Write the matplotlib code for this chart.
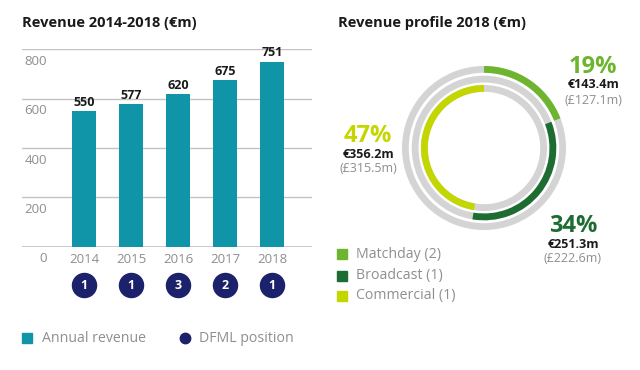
import matplotlib
matplotlib.use("Agg")
import matplotlib.pyplot as plt
import numpy as np
from matplotlib.patches import Rectangle
from matplotlib.lines import Line2D
from matplotlib.transforms import ScaledTranslation

plt.rcParams['font.family'] = ['Open Sans', 'DejaVu Sans']

# data
years = ['2014', '2015', '2016', '2017', '2018']
revenue = [550, 577, 620, 675, 751]
dfml_pos = [1, 1, 3, 2, 1]
yticks = [0, 200, 400, 600, 800]

streams = ['Matchday (2)', 'Broadcast (1)', 'Commercial (1)']
eur = [143.4, 251.3, 356.2]
gbp = [127.1, 222.6, 315.5]
pct = [19, 34, 47]

TEAL = '#0f95a7'
NAVY = '#1b216b'
GREENS = ['#6db52e', '#1d6c32', '#c4d600']
RING = '#d4d4d4'
GRID = '#c2c2c2'
TXT = '#8e8e8e'

W, H = 640, 370
fig = plt.figure(figsize=(6.4, 3.7), dpi=100)


def fx(px):
    return px / W


def fy(py):
    return 1 - py / H


# ---- left: bar chart
ax = fig.add_axes([fx(22), fy(247), fx(312) - fx(22), fy(49) - fy(247)])
x = np.arange(len(years))
bars = ax.bar(x, revenue, width=0.51, color=TEAL, zorder=2)
ax.bar_label(bars, labels=[str(v) for v in revenue], padding=1.5,
             fontsize=9, fontweight='bold', color='#1a1a1a')
ax.set_xlim(-1.32, 4.85)
ax.set_ylim(-2, 802)
ax.set_yticks(yticks)
ax.set_yticklabels([str(t) for t in yticks])
ax.set_xticks(x)
ax.set_xticklabels(years)
ax.tick_params(axis='both', length=0, labelsize=9.5, labelcolor=TXT)
ax.tick_params(axis='y', pad=-18)
ax.tick_params(axis='x', pad=4)
for lab in ax.get_yticklabels():
    lab.set_transform(lab.get_transform() + ScaledTranslation(0, -0.105, fig.dpi_scale_trans))
ax.yaxis.grid(True, color=GRID, lw=1)
ax.axhline(0, color=GRID, lw=1.2, zorder=1)
ax.set_axisbelow(True)
for s in ax.spines.values():
    s.set_visible(False)

# DFML position badges under the years
badge_y = [-0.192] * len(years)
ax.scatter(x, badge_y, s=300, color=NAVY, transform=ax.get_xaxis_transform(),
           clip_on=False, zorder=3)
for xi, by, p in zip(x, badge_y, dfml_pos):
    ax.text(xi, by, str(p), transform=ax.get_xaxis_transform(), ha='center',
            va='center', color='white', fontsize=9, fontweight='bold', zorder=4)

fig.text(fx(22), fy(23), 'Revenue 2014-2018 (€m)', fontsize=10.5,
         fontweight='bold', color='#1a1a1a', va='center')

# left legend
fig.add_artist(Rectangle((fx(22), fy(343)), fx(10), 10 / H, color=TEAL,
                         transform=fig.transFigure))
fig.text(fx(42), fy(338), 'Annual revenue', fontsize=10.2, color=TXT, va='center')
fig.add_artist(Line2D([fx(185)], [fy(338)], marker='o', markersize=7.5,
                      color=NAVY, linestyle='none', transform=fig.transFigure))
fig.text(fx(199), fy(338), 'DFML position', fontsize=10.2, color=TXT, va='center')

# ---- right: revenue profile rings
ax2 = fig.add_axes([fx(384), fy(248), fx(200), 200 / H])
total = sum(eur)
cum = np.concatenate([[0], np.cumsum(eur)]) / total
radii = [1.0, 72.3 / 82, 63 / 82]
width = 6.8 / 82
for i, r in enumerate(radii):
    ax2.pie([1], radius=r, colors=[RING], startangle=90,
            wedgeprops=dict(width=width, linewidth=0))
    parts = [cum[i], cum[i + 1] - cum[i], max(0.0, 1 - cum[i + 1])]
    ax2.pie(parts, radius=r, colors=['none', GREENS[i], 'none'], startangle=90,
            counterclock=False, normalize=False,
            wedgeprops=dict(width=width, linewidth=0))
lim = 100 / 82
ax2.set_xlim(-lim, lim)
ax2.set_ylim(-lim, lim)
ax2.set_aspect('equal')
ax2.axis('off')

fig.text(fx(338), fy(23), 'Revenue profile 2018 (€m)', fontsize=10.5,
         fontweight='bold', color='#1a1a1a', va='center')

label_pos = [(593, 67), (573, 226), (368, 136)]
for (lx, ly), p, e, g, c in zip(label_pos, pct, eur, gbp, GREENS):
    fig.text(fx(lx), fy(ly), f'{p}%', fontsize=17, fontweight='bold', color=c,
             ha='center', va='center')
    fig.text(fx(lx), fy(ly + 18), f'€{e:.1f}m', fontsize=9, fontweight='bold',
             color='#1a1a1a', ha='center', va='center')
    fig.text(fx(lx), fy(ly + 33), f'(£{g:.1f}m)', fontsize=9, color=TXT,
             ha='center', va='center')

leg_y = [254, 276, 296]
for name, c, ly in zip(streams, GREENS, leg_y):
    fig.add_artist(Rectangle((fx(337), fy(ly + 5)), fx(10), 10 / H, color=c,
                             transform=fig.transFigure))
    fig.text(fx(356), fy(ly), name, fontsize=10.2, color=TXT, va='center')

fig.savefig('out.png', dpi=100)
